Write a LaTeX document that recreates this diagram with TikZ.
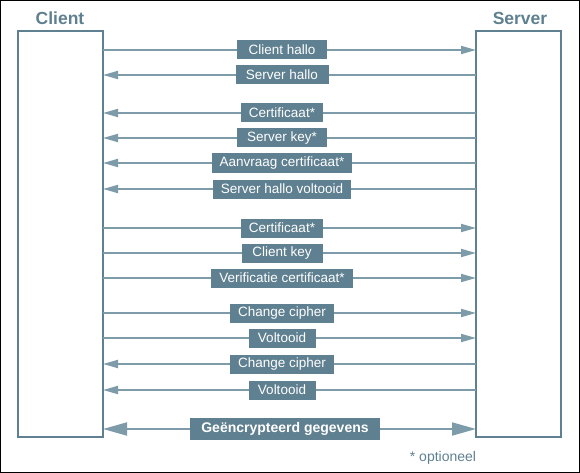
\documentclass[tikz,border=0pt]{standalone}
\usepackage{fontspec}
\setmainfont{Liberation Sans}
\usetikzlibrary{arrows.meta}
\definecolor{steel}{HTML}{5F8090}
\definecolor{steellight}{HTML}{7D9BA9}

\begin{document}
\begin{tikzpicture}[x=1pt, y=-1pt]
        \tikzstyle{party} = [rectangle, draw=steel, line width=2pt, minimum width=85pt, minimum height=406pt, outer sep=0pt]
        \tikzstyle{title} = [text=steel, font=\fontsize{17.5}{20}\selectfont\bfseries]
        \tikzstyle{msg} = [rectangle, fill=steel, text=white, inner xsep=8pt, inner ysep=0pt, minimum height=19pt, font=\fontsize{13.5}{15}\selectfont]
        \tikzstyle{bigmsg} = [msg, inner xsep=10pt, minimum height=22pt, font=\fontsize{14}{16}\selectfont\bfseries]
        \tikzstyle{toserver} = [draw=steellight, line width=1.8pt, -{Triangle[length=15pt, width=8pt]}]
        \tikzstyle{toclient} = [draw=steellight, line width=1.8pt, {Triangle[length=15pt, width=8pt]}-]
        \tikzstyle{both} = [draw=steellight, line width=1.8pt, {Triangle[length=24pt, width=13pt]}-{Triangle[length=24pt, width=13pt]}]

        \useasboundingbox (0,0) rectangle (580,473);
        \draw[black, line width=1pt] (0.5,0.5) rectangle (579.5,472.5);

        \node (Client) [party] at (60.5,234) {};
        \node (Server) [party] at (518.5,234) {};
        \node (ClientTitle) [title] at (60,18) {Client};
        \node (ServerTitle) [title] at (520,18) {Server};

        \coordinate (hello1) at (282,50);
        \coordinate (hello2) at (282,75);
        \coordinate (cert1) at (282,113);
        \coordinate (skey) at (282,138);
        \coordinate (req) at (282,163);
        \coordinate (done) at (282,189);
        \coordinate (cert2) at (282,228);
        \coordinate (ckey) at (282,253);
        \coordinate (verify) at (282,278);
        \coordinate (ccs1) at (282,313);
        \coordinate (fin1) at (282,338);
        \coordinate (ccs2) at (282,364);
        \coordinate (fin2) at (282,390);
        \coordinate (data) at (285,429);

        \draw[toserver] (Client.east |- hello1) -- (Server.west |- hello1);
        \draw[toclient] (Client.east |- hello2) -- (Server.west |- hello2);
        \draw[toclient] (Client.east |- cert1) -- (Server.west |- cert1);
        \draw[toclient] (Client.east |- skey) -- (Server.west |- skey);
        \draw[toclient] (Client.east |- req) -- (Server.west |- req);
        \draw[toclient] (Client.east |- done) -- (Server.west |- done);
        \draw[toserver] (Client.east |- cert2) -- (Server.west |- cert2);
        \draw[toserver] (Client.east |- ckey) -- (Server.west |- ckey);
        \draw[toserver] (Client.east |- verify) -- (Server.west |- verify);
        \draw[toserver] (Client.east |- ccs1) -- (Server.west |- ccs1);
        \draw[toserver] (Client.east |- fin1) -- (Server.west |- fin1);
        \draw[toclient] (Client.east |- ccs2) -- (Server.west |- ccs2);
        \draw[toclient] (Client.east |- fin2) -- (Server.west |- fin2);
        \draw[both] (Client.east |- data) -- (Server.west |- data);

        \node (hello1Text) [msg, minimum width=90pt] at (hello1) {Client hallo};
        \node (hello2Text) [msg, minimum width=93pt] at (hello2) {Server hallo};
        \node (cert1Text) [msg, minimum width=81pt] at (cert1) {Certificaat*};
        \node (skeyText) [msg, minimum width=90pt] at (skey) {Server key*};
        \node (reqText) [msg, minimum width=138pt] at (req) {Aanvraag certificaat*};
        \node (doneText) [msg, minimum width=137pt] at (done) {Server hallo voltooid};
        \node (cert2Text) [msg, minimum width=81pt] at (cert2) {Certificaat*};
        \node (ckeyText) [msg, minimum width=81pt] at (ckey) {Client key};
        \node (verifyText) [msg, minimum width=137pt] at (verify) {Verificatie certificaat*};
        \node (ccs1Text) [msg, minimum width=104pt] at (ccs1) {Change cipher};
        \node (fin1Text) [msg, minimum width=67pt] at (fin1) {Voltooid};
        \node (ccs2Text) [msg, minimum width=104pt] at (ccs2) {Change cipher};
        \node (fin2Text) [msg, minimum width=67pt] at (fin2) {Voltooid};
        \node (dataText) [bigmsg, minimum width=190pt] at (data) {Geëncrypteerd gegevens};

        \node (note) [text=steel, font=\fontsize{14}{16}\selectfont] at (443,458) {* optioneel};
\end{tikzpicture}
\end{document}
